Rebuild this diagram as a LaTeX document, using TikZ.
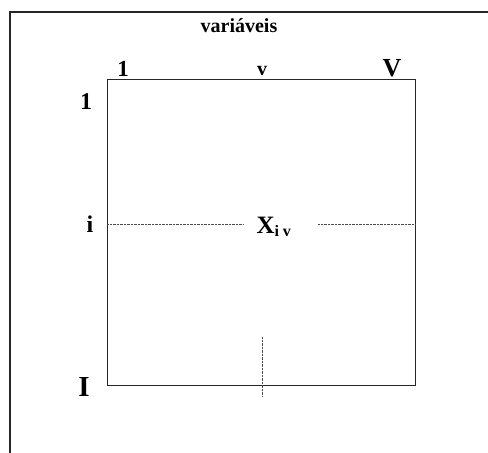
\documentclass[tikz,border=0pt]{standalone}
\usepackage{fontspec}
\setmainfont{Liberation Serif}
\begin{document}
\begin{tikzpicture}[x=1pt,y=1pt,
  frame/.style={draw=black!85,line width=1.4pt},
  dotline/.style={draw=black!70,line width=0.7pt,dotted,dash pattern=on 0.8pt off 0.6pt},
  lbl/.style={inner sep=0pt,font=\bfseries}]
\useasboundingbox (0,0) rectangle (488,-453);
% outer frame (open to the right and bottom)
\coordinate (ob) at (10,-453);
\coordinate (otl) at (10,-12);
\coordinate (otr) at (488,-12);
\draw[frame] (ob) -- (otl) -- (otr);
% inner matrix box
\node[frame,minimum width=308pt,minimum height=306pt,inner sep=0pt,anchor=north west] (box) at (107,-79) {};
% labels
\node[lbl,font=\bfseries\fontsize{20}{20}\selectfont] (var) at (239,-26) {variáveis};
\node[lbl,font=\bfseries\fontsize{23}{23}\selectfont] (c1) at (123,-69) {1};
\node[lbl,font=\bfseries\fontsize{20}{20}\selectfont] (cv) at (262,-71) {v};
\node[lbl,font=\bfseries\fontsize{26}{26}\selectfont] (cV) at (392,-68) {V};
\node[lbl,font=\bfseries\fontsize{24}{24}\selectfont] (r1) at (86,-102) {1};
\node[lbl,font=\bfseries\fontsize{24}{24}\selectfont] (ri) at (90,-224) {i};
\node[lbl,font=\bfseries\fontsize{29}{29}\selectfont] (rI) at (84,-387) {I};
\node[lbl,font=\bfseries\fontsize{25}{25}\selectfont] (x) at (274,-227) {X\textsubscript{\fontsize{16}{16}\selectfont i v}};
% dotted guides
\coordinate (hl) at (107,-224);
\coordinate (hr) at (415,-224);
\coordinate (xl) at (243,-224);
\coordinate (xr) at (318,-224);
\coordinate (vt) at (262,-337);
\coordinate (vb) at (262,-396);
\draw[dotline] (hl) -- (xl);
\draw[dotline] (xr) -- (hr);
\draw[dotline] (vt) -- (vb);
\end{tikzpicture}
\end{document}
